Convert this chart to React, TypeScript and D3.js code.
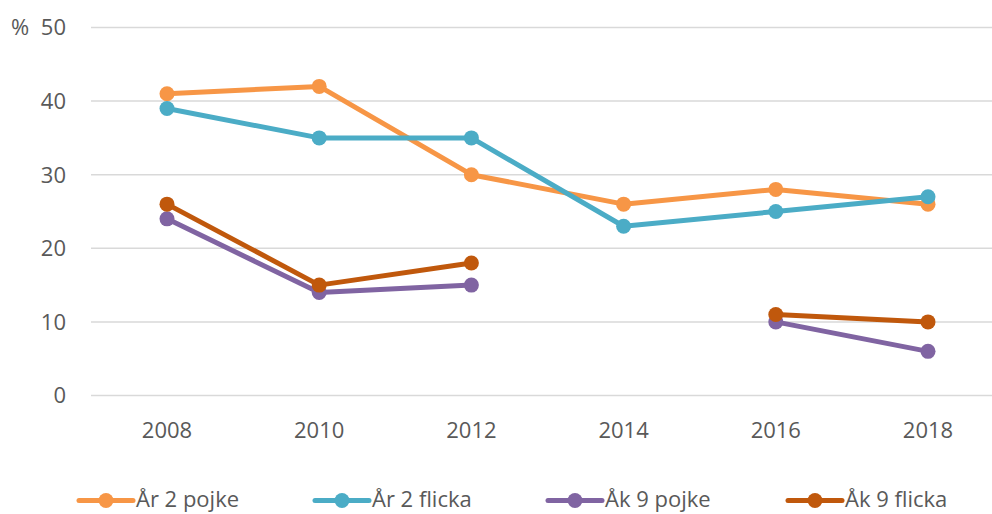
import * as d3 from 'd3'
import React, { useRef, useEffect } from 'react'

const years = ['2008', '2010', '2012', '2014', '2016', '2018']
const ar2Pojke = [41, 42, 30, 26, 28, 26]
const ar2Flicka = [39, 35, 35, 23, 25, 27]
const ak9Pojke = [24, 14, 15, null, 10, 6]
const ak9Flicka = [26, 15, 18, null, 11, 10]
const yTicks = [0, 10, 20, 30, 40, 50]

const seriesNames = ['År 2 pojke', 'År 2 flicka', 'Åk 9 pojke', 'Åk 9 flicka']
const seriesColors = ['#F79646', '#4BACC6', '#8064A2', '#C0580C']
const legendX = [79, 315, 548, 788]

const App = () => {
  const myRef = useRef<SVGSVGElement>(null)
  const width = 992
  const height = 514

  useEffect(() => {
    const svg = d3.select(myRef.current)
    svg.selectAll('*').remove()
    const font = '"Open Sans", sans-serif'
    const textColor = '#595959'

    const x = d3.scalePoint().domain(years).range([167, 928])
    const y = d3.scaleLinear().domain([0, 50]).range([395.5, 27.5])

    // gridlines
    svg.append('g')
      .selectAll('line')
      .data(yTicks)
      .enter().append('line')
      .attr('x1', 91).attr('x2', width)
      .attr('y1', d => y(d)).attr('y2', d => y(d))
      .attr('stroke', '#D9D9D9')
      .attr('stroke-width', 1.5)

    // y labels
    svg.append('g')
      .selectAll('text')
      .data(yTicks)
      .enter().append('text')
      .attr('x', 66)
      .attr('y', d => y(d))
      .attr('dy', '0.36em')
      .attr('text-anchor', 'end')
      .style('font-family', font)
      .style('font-size', '22px')
      .style('fill', textColor)
      .text(d => d)

    svg.append('text')
      .attr('x', 11).attr('y', y(50)).attr('dy', '0.36em')
      .style('font-family', font).style('font-size', '22px').style('fill', textColor)
      .text('%')

    // x labels
    svg.append('g')
      .selectAll('text')
      .data(years)
      .enter().append('text')
      .attr('x', d => x(d) as number)
      .attr('y', 438)
      .attr('text-anchor', 'middle')
      .style('font-family', font)
      .style('font-size', '22px')
      .style('fill', textColor)
      .text(d => d)

    const allSeries = [ar2Pojke, ar2Flicka, ak9Pojke, ak9Flicka]
    const line = d3.line<number | null>()
      .defined(d => d !== null)
      .x((d, i) => x(years[i]) as number)
      .y(d => y(d as number))

    allSeries.forEach((vals, si) => {
      const g = svg.append('g')
      g.append('path')
        .attr('d', line(vals))
        .attr('fill', 'none')
        .attr('stroke', seriesColors[si])
        .attr('stroke-width', 5)
        .attr('stroke-linejoin', 'round')
        .attr('stroke-linecap', 'round')
      g.selectAll('circle')
        .data(vals.map((v, i) => ({ v, i })).filter(d => d.v !== null))
        .enter().append('circle')
        .attr('cx', d => x(years[d.i]) as number)
        .attr('cy', d => y(d.v as number))
        .attr('r', 7.5)
        .attr('fill', seriesColors[si])
    })

    // legend
    const leg = svg.append('g')
    seriesNames.forEach((name, i) => {
      const lx = legendX[i]
      leg.append('line')
        .attr('x1', lx).attr('x2', lx + 54)
        .attr('y1', 500.5).attr('y2', 500.5)
        .attr('stroke', seriesColors[i])
        .attr('stroke-width', 5)
        .attr('stroke-linecap', 'round')
      leg.append('circle')
        .attr('cx', lx + 27).attr('cy', 500.5).attr('r', 7.5)
        .attr('fill', seriesColors[i])
      leg.append('text')
        .attr('x', lx + 57).attr('y', 507)
        .style('font-family', font).style('font-size', '22px').style('fill', textColor)
        .text(name)
    })
  }, [])

  return (
    <svg ref={myRef} width={width} height={height}
      style={{ position: 'absolute', left: 0, top: 0, background: '#fff' }} />
  )
}

export default App
